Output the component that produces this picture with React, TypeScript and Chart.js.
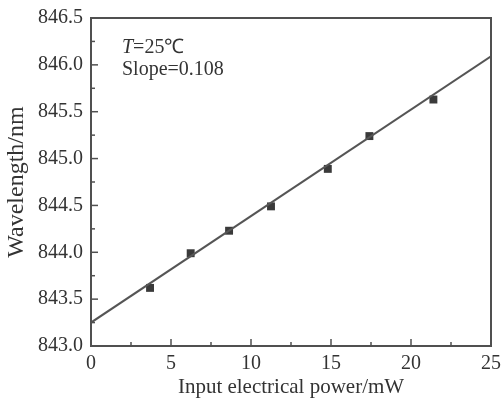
import React, { useEffect, useRef } from "react";
import { Chart, registerables } from "chart.js";

Chart.register(...registerables);

const powerMW = [3.69, 6.23, 8.63, 11.25, 14.8, 17.4, 21.4];
const wavelengthNm = [843.62, 843.99, 844.23, 844.49, 844.89, 845.24, 845.63];
const fitX = [0, 25];
const fitY = [843.25, 846.09];
const xTickValues = [0, 5, 10, 15, 20, 25];
const yTickValues = [843.0, 843.5, 844.0, 844.5, 845.0, 845.5, 846.0, 846.5];
const annotationTemp = "=25℃";
const annotationSlope = "Slope=0.108";

const AXIS_COLOR = "#505050";
const FONT = "'Liberation Serif', 'Times New Roman', serif";

const framePlugin = {
  id: "frameTicks",
  afterDraw(chart: any) {
    const { ctx, chartArea } = chart;
    const { left, right, top, bottom } = chartArea;
    const xs = chart.scales.x;
    const ys = chart.scales.y;
    ctx.save();
    ctx.strokeStyle = AXIS_COLOR;
    ctx.lineWidth = 2;
    ctx.strokeRect(left, top, right - left, bottom - top);
    ctx.lineWidth = 1.5;
    for (let i = 0; i < xTickValues.length; i++) {
      const v = xTickValues[i];
      const px = xs.getPixelForValue(v);
      if (v > 0 && v < 25) {
        ctx.beginPath();
        ctx.moveTo(px, bottom);
        ctx.lineTo(px, bottom - 7);
        ctx.stroke();
      }
      if (i < xTickValues.length - 1) {
        const mid = (v + xTickValues[i + 1]) / 2;
        const pm = xs.getPixelForValue(mid);
        ctx.beginPath();
        ctx.moveTo(pm, bottom);
        ctx.lineTo(pm, bottom - 4);
        ctx.stroke();
      }
    }
    for (let i = 0; i < yTickValues.length; i++) {
      const v = yTickValues[i];
      const py = ys.getPixelForValue(v);
      if (i > 0 && i < yTickValues.length - 1) {
        ctx.beginPath();
        ctx.moveTo(left, py);
        ctx.lineTo(left + 7, py);
        ctx.stroke();
      }
      if (i < yTickValues.length - 1) {
        const mid = (v + yTickValues[i + 1]) / 2;
        const pm = ys.getPixelForValue(mid);
        ctx.beginPath();
        ctx.moveTo(left, pm);
        ctx.lineTo(left + 4, pm);
        ctx.stroke();
      }
    }
    ctx.fillStyle = "#333";
    ctx.textBaseline = "alphabetic";
    ctx.textAlign = "left";
    const tx = left + 31;
    ctx.font = `italic 20px ${FONT}`;
    ctx.fillText("T", tx, 53);
    const tw = ctx.measureText("T").width;
    ctx.font = `20px ${FONT}`;
    ctx.fillText(annotationTemp, tx + tw, 53);
    ctx.fillText(annotationSlope, tx, 75);
    ctx.restore();
  },
};

export default function App() {
  const ref = useRef<HTMLCanvasElement | null>(null);
  useEffect(() => {
    if (!ref.current) return;
    const chart = new Chart(ref.current, {
      type: "scatter",
      data: {
        datasets: [
          {
            label: "Fit",
            data: fitX.map((x, i) => ({ x, y: fitY[i] })),
            showLine: true,
            borderColor: "#555",
            borderWidth: 2,
            pointRadius: 0,
            fill: false,
          },
          {
            label: "Measured",
            data: powerMW.map((x, i) => ({ x, y: wavelengthNm[i] })),
            pointStyle: "rect",
            pointRadius: 5.6,
            backgroundColor: "#3a3a3a",
            borderColor: "#3a3a3a",
            borderWidth: 0,
          },
        ],
      },
      options: {
        responsive: false,
        animation: false,
        layout: { padding: { left: 0, right: 12, top: 18, bottom: 0 } },
        plugins: {
          legend: { display: false },
          tooltip: { enabled: false },
        },
        scales: {
          x: {
            type: "linear",
            min: 0,
            max: 25,
            afterFit: (s: any) => {
              s.height = 54;
              s.paddingRight = 0;
              s.paddingLeft = 0;
            },
            afterBuildTicks: (s: any) => {
              s.ticks = xTickValues.map((v) => ({ value: v }));
            },
            grid: { display: false, drawTicks: false },
            border: { display: false },
            ticks: {
              color: "#333",
              padding: 6,
              maxRotation: 0,
              font: { family: FONT, size: 20 },
              callback: (v: any) => String(v),
            },
            title: {
              display: true,
              text: "Input electrical power/mW",
              color: "#333",
              font: { family: FONT, size: 21 },
              padding: { top: 0, bottom: 0 },
            },
          },
          y: {
            type: "linear",
            min: 843,
            max: 846.5,
            afterFit: (s: any) => {
              s.width = 91;
              s.paddingTop = 0;
              s.paddingBottom = 0;
            },
            afterBuildTicks: (s: any) => {
              s.ticks = yTickValues.map((v) => ({ value: v }));
            },
            grid: { display: false, drawTicks: false },
            border: { display: false },
            ticks: {
              color: "#333",
              padding: 8,
              font: { family: FONT, size: 20 },
              callback: (v: any) => Number(v).toFixed(1),
            },
            title: {
              display: true,
              text: "Wavelength/nm",
              color: "#333",
              font: { family: FONT, size: 24 },
              padding: { top: 2, bottom: 0 },
            },
          },
        },
      },
      plugins: [framePlugin],
    });
    return () => chart.destroy();
  }, []);
  return (
    <div style={{ position: "absolute", left: 0, top: 0, width: 503, height: 400, background: "#fff" }}>
      <canvas ref={ref} width={503} height={400} />
    </div>
  );
}
